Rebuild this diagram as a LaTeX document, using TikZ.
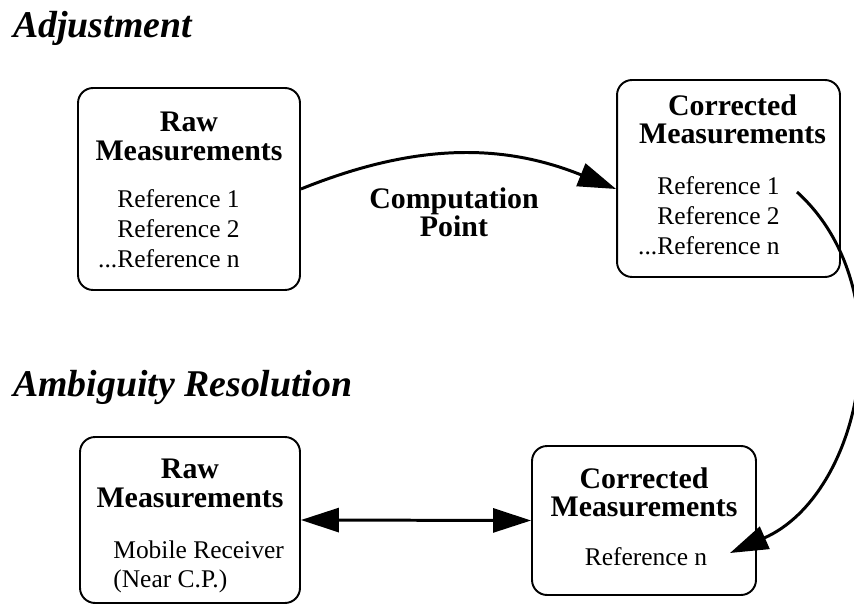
\documentclass[tikz,border=0pt]{standalone}
\usepackage{fontspec}
\setmainfont{Liberation Serif}
\usetikzlibrary{arrows.meta, positioning}
\definecolor{inkBlack}{HTML}{000000}
\tikzset{
  boxM/.style={rectangle, rounded corners=0.3cm, draw=inkBlack, line width=1.1pt,
               inner sep=0pt},
  titleT/.style={align=center, font=\fontsize{17}{16}\selectfont\bfseries, inner sep=0pt},
  listT/.style={font=\fontsize{14.5}{17}\selectfont, inner sep=0pt},
  headT/.style={font=\fontsize{21.5}{24}\selectfont\bfseries\itshape, inner sep=0pt,
                anchor=base west},
  tipT/.tip={Triangle[length=0.76cm, width=0.48cm]},
  arrowK/.style={-tipT, draw=inkBlack, line width=1.7pt},
  arrowKK/.style={tipT-tipT, draw=inkBlack, line width=1.7pt},
}
\begin{document}
\begin{tikzpicture}[x=0.02cm, y=-0.02cm]
    \useasboundingbox (0,0) rectangle (854,604);
    % headings
    \node[headT] (hadj) at (13,38) {Adjustment};
    \node[headT] (hamb) at (13,396) {Ambiguity Resolution};
    % adjustment boxes
    \node[boxM, minimum width=4.44cm, minimum height=4.04cm] (raw1) at (189,189) {};
    \node[titleT, below=0.5cm of raw1.north] (raw1t) {Raw\\Measurements};
    \node[listT, align=right, anchor=north east] (raw1l) at (240,189)
          {Reference 1\\Reference 2\\...Reference n};
    \node[boxM, minimum width=4.46cm, minimum height=3.94cm] (corr1) at (728.5,178.5) {};
    \node[titleT, below=0.3cm of corr1.north, xshift=0.08cm] (corr1t) {Corrected\\Measurements};
    \node[listT, align=right, anchor=north east] (corr1l) at (780,176)
          {Reference 1\\Reference 2\\...Reference n};
    \node[titleT, anchor=north] (cp) at (454,187) {Computation\\Point};
    % ambiguity resolution boxes
    \node[boxM, minimum width=4.4cm, minimum height=3.32cm] (raw2) at (190,520) {};
    \node[titleT, below=0.46cm of raw2.north] (raw2t) {Raw\\Measurements};
    \node[listT, align=left, anchor=north west] (raw2l) at (113,540)
          {Mobile Receiver\\(Near C.P.)};
    \node[boxM, minimum width=4.48cm, minimum height=2.98cm] (corr2) at (644,520.5) {};
    \node[titleT, below=0.44cm of corr2.north] (corr2t) {Corrected\\Measurements};
    \node[listT, anchor=north] (corr2l) at (646,547) {Reference n};
    % connectors
    \coordinate (ref1) at (797,192);
    \coordinate (refn) at (730,553);
    \draw[arrowK] (raw1.east) to[bend left=22] (corr1.west |- raw1.east);
    \draw[arrowK] (ref1) .. controls (905,290) and (862,495) .. (refn);
    \draw[arrowKK] (raw2.east) -- (corr2.west);
\end{tikzpicture}
\end{document}
